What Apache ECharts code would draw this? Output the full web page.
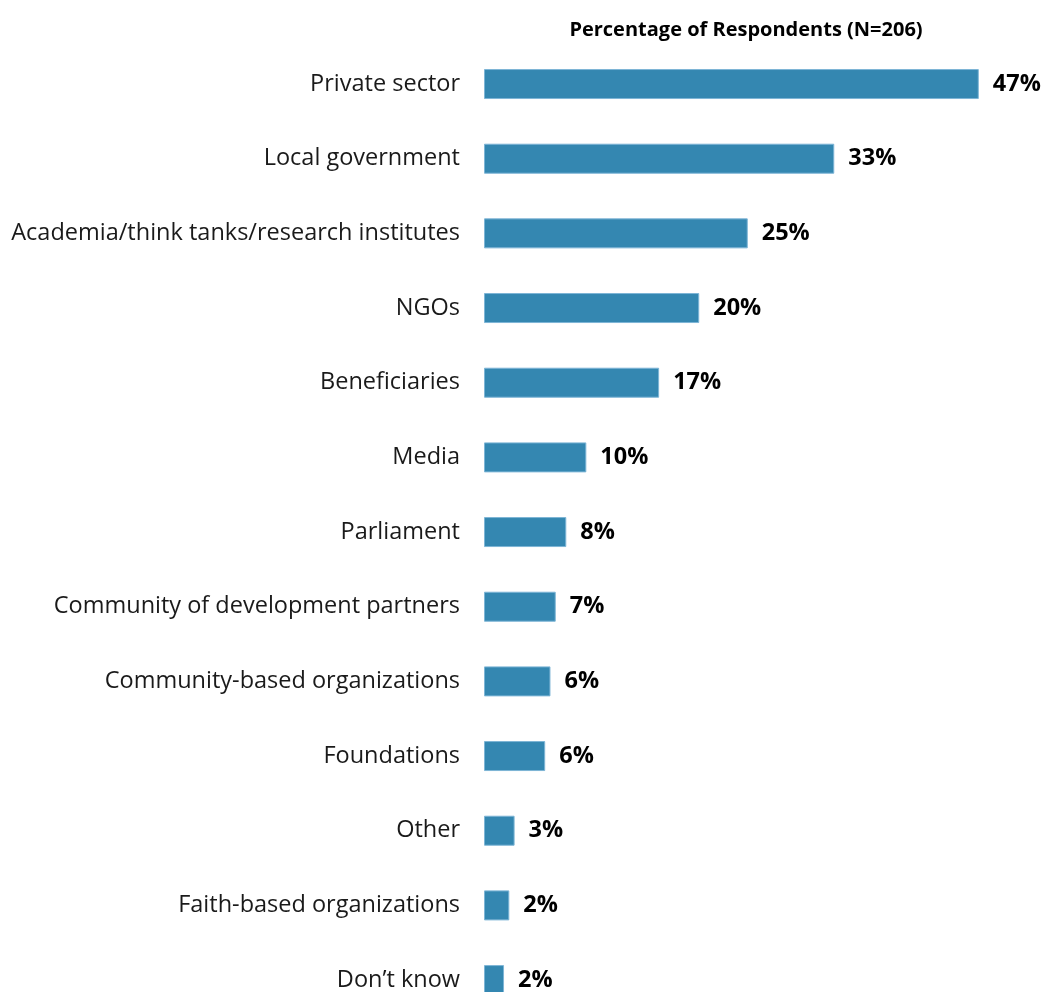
<!DOCTYPE html>
<html>
<head>
<meta charset="utf-8">
<script src="https://cdn.jsdelivr.net/npm/echarts@6/dist/echarts.min.js"></script>
<style>html,body{margin:0;padding:0;background:#fff}#c{width:1045px;height:992px}</style>
</head>
<body>
<div id="c"></div>
<script>
const titleText = 'Percentage of Respondents (N=206)';
const categories = ['Private sector','Local government','Academia/think tanks/research institutes','NGOs','Beneficiaries','Media','Parliament','Community of development partners','Community-based organizations','Foundations','Other','Faith-based organizations','Don\u2019t know'];
const values = [46.9, 33.2, 25.0, 20.4, 16.6, 9.7, 7.8, 6.8, 6.3, 5.8, 2.9, 2.4, 1.9];

const chart = echarts.init(document.getElementById('c'), null, {renderer:'canvas'});
chart.setOption({
  animation:false,
  backgroundColor:'#ffffff',
  title:{text:titleText,left:741,top:15,textAlign:'center',
    textStyle:{fontFamily:'Open Sans',fontWeight:'bold',fontSize:20,color:'#000'}},
  grid:{left:484,top:46.7,width:527.5,height:970.7,containLabel:false,outerBoundsMode:'none'},
  xAxis:{type:'value',min:0,max:50,show:false},
  yAxis:{type:'category',data:categories,inverse:true,
    axisLine:{show:false},axisTick:{show:false},
    axisLabel:{margin:24,fontFamily:'Open Sans',fontSize:23.5,color:'#1a1a1a'}},
  series:[{type:'bar',data:values,barWidth:30,
    itemStyle:{color:'#3487b1',borderColor:'#7db5d6',borderWidth:1},
    label:{show:true,position:'right',distance:14,fontFamily:'Open Sans',fontWeight:'bold',fontSize:23.5,color:'#000',
      formatter:p=>Math.round(p.value)+'%'}}]
});
</script>
</body>
</html>
